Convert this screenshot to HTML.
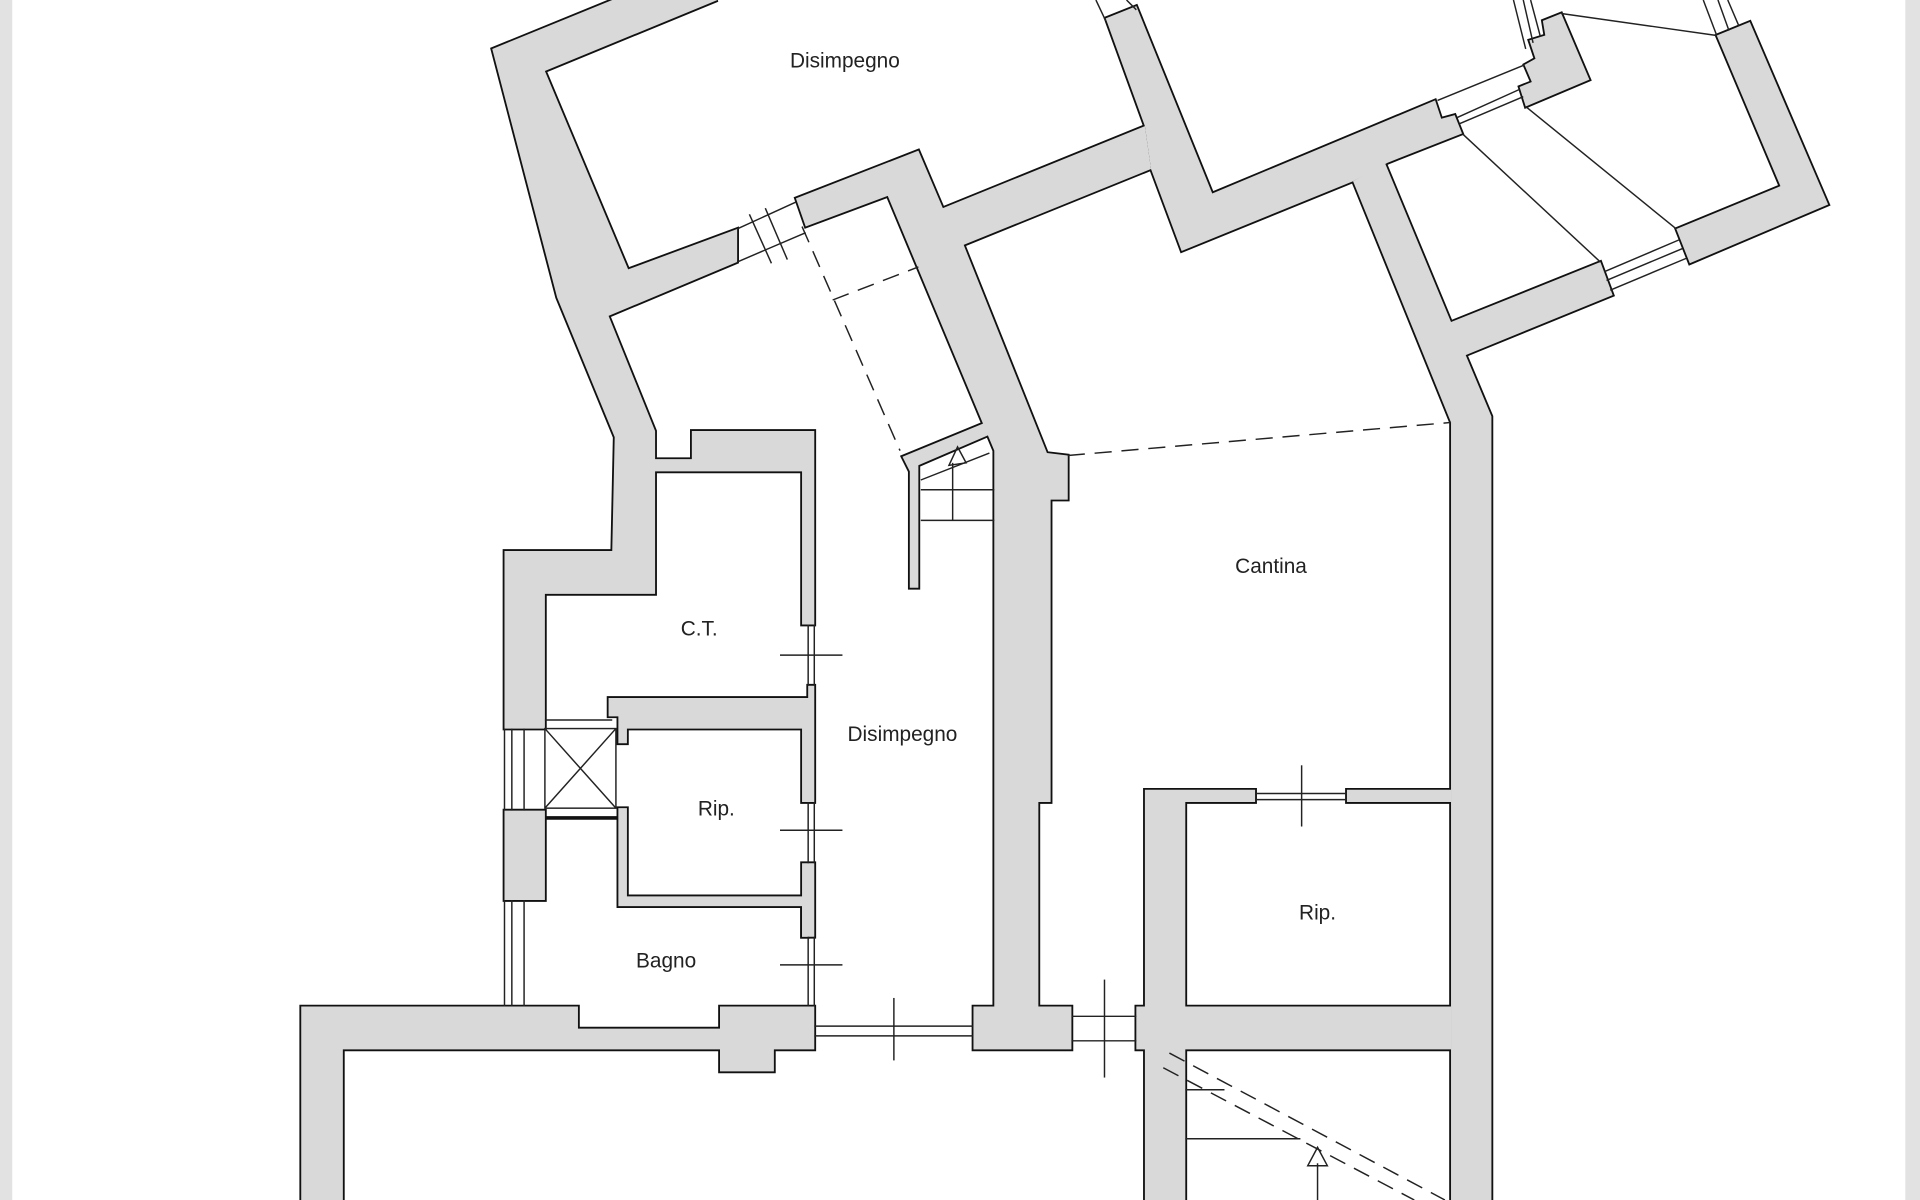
<!DOCTYPE html>
<html><head><meta charset="utf-8"><style>
html,body{margin:0;padding:0;background:#fff;width:1920px;height:1200px;overflow:hidden}
svg{display:block}
text{font-family:"Liberation Sans",sans-serif;font-size:17px;fill:#222;text-anchor:middle}
</style></head><body>
<svg width="1920" height="1200" viewBox="0 0 1568 980" preserveAspectRatio="none" xmlns="http://www.w3.org/2000/svg">
<rect width="1568" height="980" fill="#fff"/>
<rect x="0" y="0" width="10" height="980" fill="#e2e2e2"/>
<rect x="1556" y="0" width="12" height="980" fill="#e2e2e2"/>
<defs>
<g id="walls">
<polygon points="500,0 402,40 455,243 502,357 500,450 412,450 412,595 445,595 445,485 535,485 535,385 655,385 655,510 665,510 665,352 565,352 565,375 535,375 535,352 497,258 602,214 602,187 513,220 445,58 586,0"/>
<polygon points="650,162 750,123 770,170 935,103 940,138 787,200 855,370 872,372 872,408 858,408 858,655 848,655 848,822 875,822 875,857 795,857 795,822 812,822 812,368 725,160 658,185"/>
<polygon points="903,15 928,5 990,158 1172,82 1177,97 1188,94 1194,109 1133,133 1105,148 965,205 940,138 935,103"/>
<polygon points="1105,148 1131,133 1185,263 1307,214 1317,241 1197,290 1218,340 1218,985 1185,985 1185,345"/>
<polygon points="1275,11 1298,65 1246,87 1241,71 1251,67 1245,53 1254,48 1249,33 1262,29 1260,17"/>
<polygon points="1402,29 1429,18 1493,167 1380,215 1369,187 1454,152"/>
<polygon points="246,985 246,822 472,822 472,840 588,840 588,822 665,822 665,857 632,857 632,875 588,875 588,857 280,857 280,985"/>
<polygon points="412,662 445,662 445,668 505,668 505,660 512,660 512,732 660,732 660,765 655,765 655,740 505,740 505,668 445,668 445,735 412,735"/>
<polygon points="497,570 660,570 660,560 665,560 665,595 655,595 655,655 665,655 665,595 512,595 512,607 505,607 505,585 497,585"/>
<polygon points="655,705 665,705 665,765 655,765"/>
<polygon points="935,645 1025,645 1025,655 968,655 968,822 1185,822 1185,857 968,857 968,985 935,985 935,857 928,857 928,822 935,822"/>
<polygon points="1100,645 1185,645 1185,655 1100,655"/>
<polygon points="737,373 805,345 808,355 750,380 750,480 743,480 743,385"/>
</g>
</defs>
<use href="#walls" fill="#111" stroke="#111" stroke-width="3" stroke-linejoin="miter"/>
<use href="#walls" fill="#d9d9d9" stroke="none"/>
<g stroke="#222" stroke-width="1.2" fill="none">
<line x1="602" y1="187" x2="650" y2="165"/><line x1="602" y1="214" x2="658" y2="190"/>
<line x1="612" y1="175" x2="630" y2="215"/><line x1="625" y1="170" x2="643" y2="212"/>
<line x1="412" y1="595" x2="412" y2="662"/><line x1="418" y1="595" x2="418" y2="662"/><line x1="428" y1="595" x2="428" y2="662"/>
<rect x="445" y="595" width="58" height="65"/><line x1="445" y1="595" x2="503" y2="660"/><line x1="503" y1="595" x2="445" y2="660"/>
<line x1="445" y1="588" x2="500" y2="588"/>
<line x1="412" y1="735" x2="412" y2="822"/><line x1="418" y1="735" x2="418" y2="822"/><line x1="428" y1="735" x2="428" y2="822"/>
<line x1="660" y1="510" x2="660" y2="560"/><line x1="665" y1="510" x2="665" y2="560"/><line x1="637" y1="535" x2="688" y2="535"/>
<line x1="660" y1="655" x2="660" y2="705"/><line x1="665" y1="655" x2="665" y2="705"/><line x1="637" y1="678" x2="688" y2="678"/>
<line x1="660" y1="765" x2="660" y2="822"/><line x1="665" y1="765" x2="665" y2="822"/><line x1="637" y1="788" x2="688" y2="788"/>
<line x1="665" y1="838" x2="795" y2="838"/><line x1="665" y1="846" x2="795" y2="846"/><line x1="730" y1="815" x2="730" y2="866"/>
<line x1="875" y1="830" x2="928" y2="830"/><line x1="875" y1="850" x2="928" y2="850"/><line x1="902" y1="800" x2="902" y2="880"/>
<line x1="1025" y1="648" x2="1100" y2="648"/><line x1="1025" y1="653" x2="1100" y2="653"/><line x1="1063" y1="625" x2="1063" y2="675"/>
<line x1="895" y1="0" x2="903" y2="17"/><line x1="920" y1="0" x2="928" y2="8"/>
<line x1="1236" y1="0" x2="1246" y2="40"/><line x1="1244" y1="0" x2="1252" y2="35"/><line x1="1250" y1="0" x2="1258" y2="30"/>
<line x1="1174" y1="82" x2="1245" y2="53"/><line x1="1190" y1="96" x2="1241" y2="73"/><line x1="1192" y1="101" x2="1244" y2="79"/>
<line x1="1275" y1="11" x2="1402" y2="29"/>
<line x1="1391" y1="0" x2="1402" y2="29"/><line x1="1403" y1="0" x2="1412" y2="25"/><line x1="1411" y1="0" x2="1420" y2="21"/>
<line x1="1194" y1="109" x2="1307" y2="214"/><line x1="1246" y1="87" x2="1369" y2="187"/>
<line x1="1310" y1="222" x2="1371" y2="196"/><line x1="1312" y1="229" x2="1374" y2="203"/><line x1="1315" y1="237" x2="1377" y2="211"/>
<line x1="752" y1="392" x2="808" y2="370"/><line x1="752" y1="400" x2="812" y2="400"/><line x1="752" y1="425" x2="812" y2="425"/>
<line x1="778" y1="378" x2="778" y2="425"/><polygon points="775,380 782,365 789,378"/>
<line x1="968" y1="890" x2="1000" y2="890"/><line x1="968" y1="930" x2="1062" y2="930"/>
<line x1="1076" y1="950" x2="1076" y2="980"/><polygon points="1068,952 1076,937 1084,952"/>
</g>
<g stroke="#222" stroke-width="1.2" fill="none" stroke-dasharray="14,8">
<line x1="655" y1="185" x2="735" y2="368"/>
<line x1="680" y1="245" x2="750" y2="218"/>
<line x1="872" y1="372" x2="1185" y2="345"/>
<line x1="955" y1="860" x2="1180" y2="980"/>
<line x1="950" y1="872" x2="1155" y2="980"/>
</g>
<text x="690" y="55">Disimpegno</text>
<text x="1038" y="468">Cantina</text>
<text x="571" y="519">C.T.</text>
<text x="737" y="605">Disimpegno</text>
<text x="585" y="666">Rip.</text>
<text x="1076" y="751">Rip.</text>
<text x="544" y="790">Bagno</text>
</svg>
</body></html>
